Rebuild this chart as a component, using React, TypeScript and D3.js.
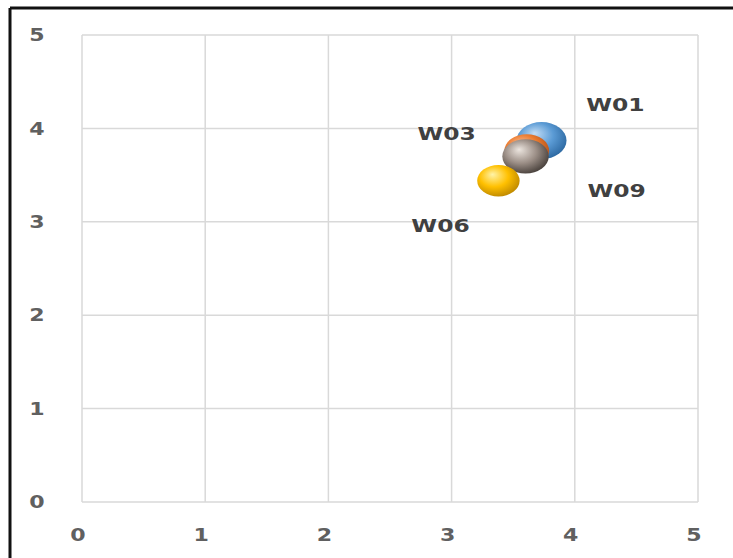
import React from "react";
import * as d3 from "d3";

const seriesNames = ["W01", "W03", "W09", "W06"];
const xValues = [3.73, 3.61, 3.6, 3.38];
const yValues = [3.87, 3.76, 3.7, 3.44];
const sizes = [100, 80, 86, 72];
const baseColors = ["#5b9bd5", "#ed7d31", "#9c8f87", "#ffc000"];
const lightColors = ["#c3ddf5", "#f8c3a0", "#ece5df", "#fff3a8"];
const darkColors = ["#2e6aa3", "#b5531a", "#4a423d", "#c08a00"];
const labelX = [4.33, 2.96, 4.34, 2.91];
const labelY = [4.26, 3.95, 3.33, 2.955];
const xTicks = [0, 1, 2, 3, 4, 5];
const yTicks = [0, 1, 2, 3, 4, 5];

export default function App() {
  const W = 733;
  const H = 558;
  const left = 82, right = 698, top = 35, bottom = 502;
  const x = d3.scaleLinear().domain([0, 5]).range([left, right]);
  const y = d3.scaleLinear().domain([0, 5]).range([bottom, top]);
  const r = d3.scaleSqrt().domain([0, 100]).range([0, 25]);
  const aspect = 0.74;
  const font = "'DejaVu Sans', 'Open Sans', sans-serif";

  return (
    <svg width={W} height={H} style={{ position: "absolute", left: 0, top: 0, background: "#fff" }}>
      <defs>
        {seriesNames.map((n, i) => (
          <radialGradient key={n} id={`g${i}`} cx="0.42" cy="0.4" r="0.62" fx="0.36" fy="0.3">
            <stop offset="0%" stopColor={lightColors[i]} />
            <stop offset="55%" stopColor={baseColors[i]} />
            <stop offset="100%" stopColor={darkColors[i]} />
          </radialGradient>
        ))}
      </defs>
      <rect x={0} y={0} width={W} height={H} fill="#fff" />
      {/* frame */}
      <line x1={10} y1={8} x2={W} y2={8} stroke="#111" strokeWidth={3} />
      <line x1={10} y1={8} x2={10} y2={H} stroke="#111" strokeWidth={3} />
      {/* grid */}
      {xTicks.map((t) => (
        <line key={"gx" + t} x1={x(t)} x2={x(t)} y1={top} y2={bottom} stroke="#d9d9d9" strokeWidth={1.5} />
      ))}
      {yTicks.map((t) => (
        <line key={"gy" + t} x1={left} x2={right} y1={y(t)} y2={y(t)} stroke="#d9d9d9" strokeWidth={1.5} />
      ))}
      {/* tick labels */}
      {yTicks.map((t) => (
        <text key={"ty" + t} transform={`translate(37,${y(t)}) scale(1.3,1)`} dy="0.36em" textAnchor="middle" fontFamily={font} fontWeight={700} fontSize={17} fill="#606060">
          {t}
        </text>
      ))}
      {xTicks.map((t) => (
        <text key={"tx" + t} transform={`translate(${x(t) - 4},535) scale(1.3,1)`} dy="0.36em" textAnchor="middle" fontFamily={font} fontWeight={700} fontSize={17} fill="#606060">
          {t}
        </text>
      ))}
      {/* bubbles */}
      {seriesNames.map((n, i) => (
        <ellipse key={"b" + n} cx={x(xValues[i])} cy={y(yValues[i])} rx={r(sizes[i])} ry={r(sizes[i]) * aspect} fill={`url(#g${i})`} />
      ))}
      {/* labels */}
      {seriesNames.map((n, i) => (
        <text key={"l" + n} transform={`translate(${x(labelX[i])},${y(labelY[i])}) scale(1.3,1)`} dy="0.36em" textAnchor="middle" fontFamily={font} fontWeight={700} fontSize={18} fill="#404040">
          {n}
        </text>
      ))}
    </svg>
  );
}
